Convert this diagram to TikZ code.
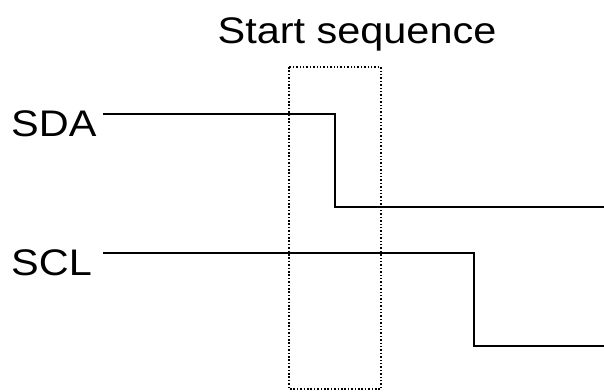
\documentclass[tikz,border=0pt]{standalone}
\usepackage{fontspec}
\setmainfont{Liberation Sans}
\newfontfamily\widesans[FakeStretch=1.12]{Liberation Sans}
\begin{document}
\begin{tikzpicture}[x=1pt,y=-1pt,
  lbl/.style={font=\widesans\fontsize{37}{42}\selectfont, inner sep=0pt},
  sig/.style={line width=2pt, line join=miter},
  dotbox/.style={line width=1.5pt, dash pattern=on 1.5pt off 1.9pt}]
\useasboundingbox (0,0) rectangle (604,391);
\node[lbl, anchor=base] (title) at (357,43) {Start sequence};
\node[lbl, anchor=base west] (sda) at (11,136) {SDA};
\node[lbl, anchor=base west] (scl) at (11,275) {SCL};
\coordinate (a0) at (103,114);
\coordinate (a1) at (335,114);
\coordinate (a2) at (335,207);
\coordinate (a3) at (604,207);
\coordinate (c0) at (103,253);
\coordinate (c1) at (474,253);
\coordinate (c2) at (474,346);
\coordinate (c3) at (604,346);
\draw[sig] (a0) -- (a1) -- (a2) -- (a3);
\draw[sig] (c0) -- (c1) -- (c2) -- (c3);
\coordinate (b0) at (289,67);
\coordinate (b1) at (381,389);
\draw[dotbox] (b0) rectangle (b1);
\end{tikzpicture}
\end{document}
